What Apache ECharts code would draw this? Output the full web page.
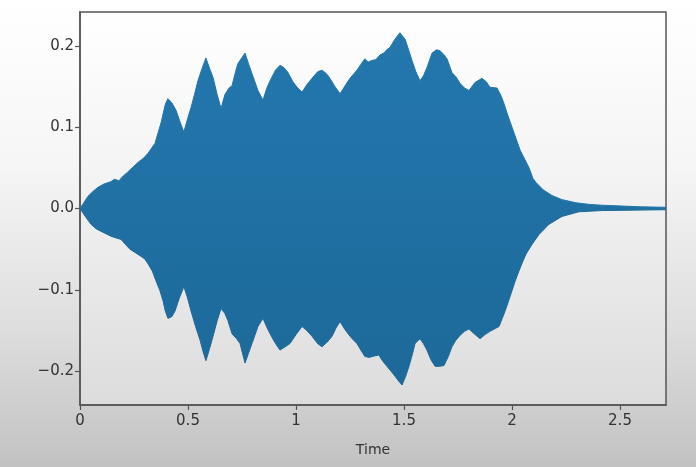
<!DOCTYPE html>
<html>
<head>
<meta charset="utf-8">
<style>
  html, body { margin: 0; padding: 0; }
  #chart { width: 696px; height: 467px; }
</style>
<script src="https://cdn.jsdelivr.net/npm/echarts@6/dist/echarts.min.js"></script>
</head>
<body>
<div id="chart"></div>
<script>
// Waveform envelope: positive peaks (seconds, amplitude)
const upperTime = [0.000,0.015,0.037,0.060,0.083,0.110,0.143,0.160,0.180,0.200,0.222,0.250,0.270,0.295,0.315,0.347,0.375,0.395,0.407,0.425,0.444,0.465,0.481,0.500,0.514,0.530,0.546,0.565,0.583,0.600,0.616,0.635,0.653,0.671,0.690,0.704,0.720,0.731,0.764,0.780,0.796,0.824,0.847,0.865,0.880,0.905,0.926,0.945,0.963,0.985,1.005,1.028,1.050,1.074,1.100,1.120,1.140,1.157,1.180,1.204,1.230,1.250,1.282,1.300,1.319,1.335,1.352,1.370,1.390,1.407,1.420,1.435,1.458,1.481,1.505,1.520,1.537,1.555,1.574,1.590,1.606,1.630,1.650,1.667,1.685,1.699,1.722,1.740,1.759,1.780,1.801,1.829,1.861,1.880,1.898,1.931,1.950,1.963,1.980,2.000,2.020,2.037,2.060,2.079,2.097,2.111,2.144,2.185,2.230,2.296,2.360,2.417,2.510,2.600,2.713];
const upperAmp = [0.000,0.006,0.015,0.021,0.026,0.030,0.033,0.036,0.034,0.040,0.045,0.052,0.057,0.062,0.068,0.080,0.105,0.128,0.135,0.130,0.121,0.105,0.094,0.112,0.124,0.140,0.157,0.172,0.185,0.172,0.161,0.140,0.123,0.140,0.148,0.151,0.168,0.178,0.191,0.178,0.166,0.145,0.133,0.148,0.157,0.170,0.176,0.173,0.167,0.156,0.149,0.143,0.152,0.160,0.168,0.170,0.166,0.160,0.150,0.141,0.152,0.160,0.170,0.177,0.184,0.180,0.182,0.183,0.189,0.191,0.195,0.198,0.208,0.216,0.208,0.196,0.182,0.168,0.157,0.163,0.173,0.191,0.195,0.194,0.189,0.184,0.167,0.162,0.154,0.148,0.145,0.155,0.160,0.156,0.149,0.148,0.138,0.129,0.115,0.100,0.085,0.072,0.060,0.050,0.037,0.032,0.023,0.016,0.011,0.007,0.005,0.004,0.003,0.002,0.0015];

// Waveform envelope: negative peaks (seconds, amplitude)
const lowerTime = [0.000,0.020,0.051,0.075,0.097,0.120,0.143,0.165,0.190,0.210,0.231,0.255,0.278,0.300,0.315,0.335,0.352,0.370,0.384,0.395,0.407,0.425,0.440,0.460,0.481,0.498,0.514,0.535,0.556,0.570,0.583,0.600,0.616,0.635,0.653,0.671,0.685,0.704,0.725,0.741,0.764,0.780,0.796,0.824,0.847,0.865,0.880,0.905,0.926,0.950,0.972,1.000,1.028,1.050,1.074,1.100,1.120,1.145,1.167,1.185,1.204,1.225,1.241,1.260,1.282,1.300,1.319,1.340,1.352,1.383,1.400,1.421,1.440,1.458,1.475,1.491,1.508,1.523,1.540,1.551,1.574,1.590,1.606,1.625,1.644,1.665,1.685,1.705,1.722,1.740,1.759,1.780,1.801,1.825,1.852,1.875,1.898,1.940,1.955,1.968,1.985,2.000,2.015,2.032,2.050,2.065,2.093,2.125,2.171,2.231,2.310,2.420,2.713];
const lowerAmp = [0.000,-0.008,-0.0195,-0.025,-0.028,-0.031,-0.034,-0.036,-0.038,-0.044,-0.050,-0.054,-0.058,-0.062,-0.068,-0.077,-0.089,-0.101,-0.113,-0.126,-0.135,-0.133,-0.126,-0.110,-0.096,-0.110,-0.126,-0.145,-0.162,-0.176,-0.187,-0.172,-0.157,-0.138,-0.123,-0.129,-0.138,-0.154,-0.160,-0.166,-0.190,-0.178,-0.166,-0.145,-0.135,-0.146,-0.154,-0.166,-0.174,-0.170,-0.166,-0.155,-0.145,-0.150,-0.157,-0.166,-0.170,-0.164,-0.157,-0.147,-0.139,-0.148,-0.154,-0.160,-0.166,-0.174,-0.182,-0.183,-0.182,-0.180,-0.187,-0.194,-0.200,-0.206,-0.212,-0.217,-0.206,-0.194,-0.178,-0.166,-0.160,-0.166,-0.174,-0.186,-0.194,-0.194,-0.193,-0.182,-0.170,-0.162,-0.156,-0.151,-0.148,-0.154,-0.160,-0.155,-0.151,-0.145,-0.135,-0.126,-0.113,-0.101,-0.089,-0.077,-0.065,-0.056,-0.044,-0.032,-0.0195,-0.0098,-0.004,-0.0025,-0.0015];

// Tick positions
const timeTicks = [0, 0.5, 1, 1.5, 2, 2.5];
const ampTicks = [-0.2, -0.1, 0, 0.1, 0.2];

const zip = (xs, ys) => xs.map((x, i) => [x, ys[i]]);

const chart = echarts.init(document.getElementById('chart'), null, { renderer: 'canvas' });

const waveFill = new echarts.graphic.LinearGradient(0, 0, 0, 467, [
  { offset: 0, color: '#2479b0' },
  { offset: 1, color: '#1b6594' }
], true);

const axisFont = { fontFamily: 'DejaVu Sans', fontSize: 15, color: '#333' };

chart.setOption({
  animation: false,
  backgroundColor: new echarts.graphic.LinearGradient(0, 0, 0, 1, [
    { offset: 0, color: '#ffffff' },
    { offset: 0.35, color: '#f6f6f6' },
    { offset: 0.7, color: '#dedede' },
    { offset: 1, color: '#c2c2c2' }
  ]),
  grid: {
    left: 80, top: 12, right: 30, bottom: 62,
    show: true,
    borderColor: '#555',
    borderWidth: 1.5,
    backgroundColor: new echarts.graphic.LinearGradient(0, 0, 0, 1, [
      { offset: 0, color: '#ffffff' },
      { offset: 0.4, color: '#f4f4f4' },
      { offset: 1, color: '#dcdcdc' }
    ])
  },
  xAxis: {
    type: 'value',
    min: 0,
    max: 2.713,
    name: 'Time',
    nameLocation: 'middle',
    nameGap: 38,
    nameTextStyle: { fontFamily: 'DejaVu Sans', fontSize: 14, color: '#333' },
    axisLine: { show: true, onZero: false, lineStyle: { color: '#555', width: 1.5 } },
    axisTick: { show: true, inside: false, length: 5, lineStyle: { color: '#555', width: 1.2 }, customValues: timeTicks },
    axisLabel: Object.assign({ margin: 9, customValues: timeTicks, formatter: v => String(v) }, axisFont),
    splitLine: { show: false }
  },
  yAxis: {
    type: 'value',
    min: -0.2415,
    max: 0.2415,
    axisLine: { show: true, onZero: false, lineStyle: { color: '#555', width: 1.5 } },
    axisTick: { show: true, inside: false, length: 5, lineStyle: { color: '#555', width: 1.2 }, customValues: ampTicks },
    axisLabel: Object.assign({ margin: 6, customValues: ampTicks,
      formatter: v => v.toFixed(1).replace('-', '\u2212') }, axisFont),
    splitLine: { show: false }
  },
  series: [
    {
      // positive half, filled slightly past zero so the two halves join seamlessly
      type: 'line',
      data: zip(upperTime, upperAmp),
      showSymbol: false,
      smooth: false,
      lineStyle: { width: 1, color: '#2176ac' },
      areaStyle: { color: waveFill, opacity: 1, origin: -0.0015 },
      silent: true,
      z: 2
    },
    {
      type: 'line',
      data: zip(lowerTime, lowerAmp),
      showSymbol: false,
      smooth: false,
      lineStyle: { width: 1, color: '#1d6999' },
      areaStyle: { color: waveFill, opacity: 1, origin: 0 },
      silent: true,
      z: 3
    }
  ]
});
</script>
</body>
</html>
